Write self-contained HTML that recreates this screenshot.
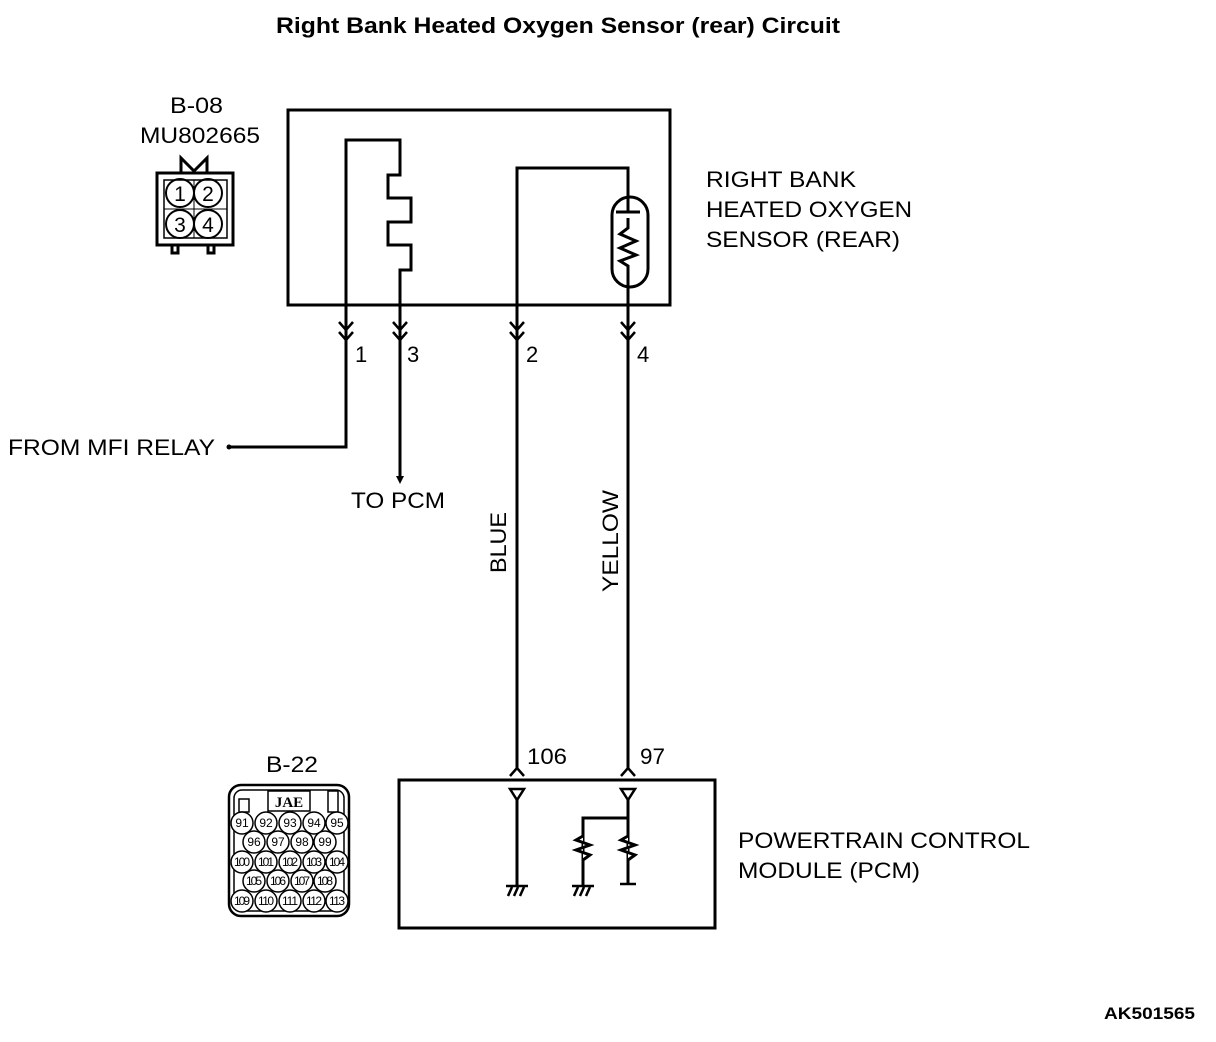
<!DOCTYPE html>
<html><head><style>
html,body{margin:0;padding:0;background:#fff;}
svg{display:block;font-family:"Liberation Sans",Arial,sans-serif;}
</style></head><body>
<svg width="1216" height="1042" viewBox="0 0 1216 1042" xmlns="http://www.w3.org/2000/svg">
<rect width="1216" height="1042" fill="#fff"/>
<text x="276" y="33" font-size="22" font-weight="bold" textLength="564" lengthAdjust="spacingAndGlyphs">Right Bank Heated Oxygen Sensor (rear) Circuit</text>

<!-- B-08 connector -->
<text x="170" y="113" font-size="22" textLength="53" lengthAdjust="spacingAndGlyphs">B-08</text>
<text x="140" y="143" font-size="22" textLength="120" lengthAdjust="spacingAndGlyphs">MU802665</text>
<g fill="none" stroke="#000" stroke-width="3">
<rect x="157" y="173" width="76" height="72"/>
<rect x="164" y="180" width="63" height="58" stroke-width="1.5"/>
<polyline points="181,173 181,158 194,171 207,158 207,173"/>
<polyline points="172,245 172,253 178,253 178,245"/>
<polyline points="208,245 208,253 214,253 214,245"/>
<line x1="194" y1="180" x2="194" y2="238" stroke-width="1"/>
<line x1="164" y1="209" x2="227" y2="209" stroke-width="1"/>
<circle cx="180" cy="193" r="14" stroke-width="2"/>
<circle cx="208" cy="193" r="14" stroke-width="2"/>
<circle cx="180" cy="224" r="14" stroke-width="2"/>
<circle cx="208" cy="224" r="14" stroke-width="2"/>
</g>
<g font-size="21" text-anchor="middle">
<text x="180" y="201">1</text><text x="208" y="201">2</text>
<text x="180" y="232">3</text><text x="208" y="232">4</text>
</g>

<!-- Sensor box -->
<g fill="none" stroke="#000" stroke-width="3">
<rect x="288" y="110" width="382" height="195"/>
<polyline points="346,340 346,140 400,140 400,175 388,175 388,198 411,198 411,222 388,222 388,245 411,245 411,270 400,270 400,478"/>
<polyline points="517,770 517,168 628,168 628,770"/>
<rect x="612" y="197" width="36" height="90" rx="18" fill="#fff"/>
<line x1="628" y1="168" x2="628" y2="212"/>
<line x1="616" y1="212" x2="640" y2="212"/>
<polyline points="628,218 628,228 620,234 636,241 620,248 636,255 620,261 628,266 628,287"/>
<polyline points="346,340 346,447 230,447"/>
</g>
<circle cx="229" cy="447" r="2.5" fill="#000"/>
<polygon points="396,476 404,476 400,484" fill="#000"/>
<!-- chevrons -->
<g fill="none" stroke="#000" stroke-width="2.5">
<polyline points="339,322 346,330 353,322"/><polyline points="339,332 346,340 353,332"/>
<polyline points="393,322 400,330 407,322"/><polyline points="393,332 400,340 407,332"/>
<polyline points="510,322 517,330 524,322"/><polyline points="510,332 517,340 524,332"/>
<polyline points="621,322 628,330 635,322"/><polyline points="621,332 628,340 635,332"/>
<polyline points="510,776 517,768 524,776"/>
<polyline points="621,776 628,768 635,776"/>
</g>
<g font-size="22">
<text x="355" y="362">1</text><text x="407" y="362">3</text>
<text x="526" y="362">2</text><text x="637" y="362">4</text>
<text x="706" y="187" textLength="150" lengthAdjust="spacingAndGlyphs">RIGHT BANK</text>
<text x="706" y="217" textLength="206" lengthAdjust="spacingAndGlyphs">HEATED OXYGEN</text>
<text x="706" y="247" textLength="194" lengthAdjust="spacingAndGlyphs">SENSOR (REAR)</text>
<text x="8" y="455" textLength="207" lengthAdjust="spacingAndGlyphs">FROM MFI RELAY</text>
<text x="351" y="508" textLength="94" lengthAdjust="spacingAndGlyphs">TO PCM</text>
<text x="527" y="764" textLength="40" lengthAdjust="spacingAndGlyphs">106</text>
<text x="640" y="764" textLength="25" lengthAdjust="spacingAndGlyphs">97</text>
<text x="738" y="848" textLength="292" lengthAdjust="spacingAndGlyphs">POWERTRAIN CONTROL</text>
<text x="738" y="878" textLength="182" lengthAdjust="spacingAndGlyphs">MODULE (PCM)</text>
<text x="266" y="772" textLength="52" lengthAdjust="spacingAndGlyphs">B-22</text>
</g>
<text transform="translate(506,573) rotate(-90)" font-size="22" textLength="61" lengthAdjust="spacingAndGlyphs">BLUE</text>
<text transform="translate(618,592) rotate(-90)" font-size="22" textLength="102" lengthAdjust="spacingAndGlyphs">YELLOW</text>

<!-- PCM box -->
<g fill="none" stroke="#000" stroke-width="3">
<rect x="399" y="780" width="316" height="148"/>
<line x1="517" y1="800" x2="517" y2="885"/>
<polyline points="628,800 628,818 583,818 583,885"/>
<line x1="628" y1="818" x2="628" y2="884"/>
<line x1="620" y1="884" x2="636" y2="884" stroke-width="2.5"/>
</g>
<g fill="#fff" stroke="#000" stroke-width="2.5">
<polygon points="510,789 524,789 517,800"/>
<polygon points="621,789 635,789 628,800"/>
</g>
<!-- resistors -->
<g fill="#fff" stroke="#000" stroke-width="3">
<polyline points="583,836 576,840 590,845 576,850 590,855 583,860"/>
<polyline points="628,836 621,840 635,845 621,850 635,855 628,860"/>
</g>
<!-- grounds -->
<g fill="none" stroke="#000" stroke-width="2.5">
<line x1="506" y1="886" x2="528" y2="886"/>
<line x1="508" y1="896" x2="512" y2="887"/><line x1="514" y1="896" x2="518" y2="887"/><line x1="520" y1="896" x2="524" y2="887"/>
<line x1="572" y1="886" x2="594" y2="886"/>
<line x1="574" y1="896" x2="578" y2="887"/><line x1="580" y1="896" x2="584" y2="887"/><line x1="586" y1="896" x2="590" y2="887"/>
</g>

<!-- B-22 connector -->
<g fill="none" stroke="#000">
<rect x="229" y="785" width="120" height="131" rx="12" stroke-width="2.5"/>
<rect x="234" y="790" width="110" height="121" rx="8" stroke-width="1.5"/>
<rect x="268" y="791" width="42" height="20" stroke-width="1.5"/>
<rect x="239" y="799" width="10" height="13" stroke-width="1.5"/>
<rect x="328" y="791" width="10" height="21" stroke-width="1.5"/>
</g>
<text x="289" y="807" font-size="15" font-family="Liberation Serif" text-anchor="middle" font-weight="bold">JAE</text>
<g fill="#fff" stroke="#000" stroke-width="1.5">
<circle cx="242" cy="823" r="11"/><circle cx="266" cy="823" r="11"/><circle cx="290" cy="823" r="11"/><circle cx="314" cy="823" r="11"/><circle cx="337" cy="823" r="11"/>
<circle cx="254" cy="842" r="11"/><circle cx="278" cy="842" r="11"/><circle cx="302" cy="842" r="11"/><circle cx="325" cy="842" r="11"/>
<circle cx="242" cy="862" r="11"/><circle cx="266" cy="862" r="11"/><circle cx="290" cy="862" r="11"/><circle cx="314" cy="862" r="11"/><circle cx="337" cy="862" r="11"/>
<circle cx="254" cy="881" r="11"/><circle cx="278" cy="881" r="11"/><circle cx="302" cy="881" r="11"/><circle cx="325" cy="881" r="11"/>
<circle cx="242" cy="901" r="11"/><circle cx="266" cy="901" r="11"/><circle cx="290" cy="901" r="11"/><circle cx="314" cy="901" r="11"/><circle cx="337" cy="901" r="11"/>
</g>
<g font-size="12" text-anchor="middle" font-family="Liberation Sans Narrow,Liberation Sans,sans-serif">
<text x="242" y="827">91</text><text x="266" y="827">92</text><text x="290" y="827">93</text><text x="314" y="827">94</text><text x="337" y="827">95</text>
<text x="254" y="846">96</text><text x="278" y="846">97</text><text x="302" y="846">98</text><text x="325" y="846">99</text>
<text x="242" y="866" textLength="16">100</text><text x="266" y="866" textLength="16">101</text><text x="290" y="866" textLength="16">102</text><text x="314" y="866" textLength="16">103</text><text x="337" y="866" textLength="16">104</text>
<text x="254" y="885" textLength="16">105</text><text x="278" y="885" textLength="16">106</text><text x="302" y="885" textLength="16">107</text><text x="325" y="885" textLength="16">108</text>
<text x="242" y="905" textLength="16">109</text><text x="266" y="905" textLength="16">110</text><text x="290" y="905" textLength="16">111</text><text x="314" y="905" textLength="16">112</text><text x="337" y="905" textLength="16">113</text>
</g>

<text x="1104" y="1019" font-size="17" font-weight="bold" textLength="91" lengthAdjust="spacingAndGlyphs">AK501565</text>
</svg>
</body></html>
